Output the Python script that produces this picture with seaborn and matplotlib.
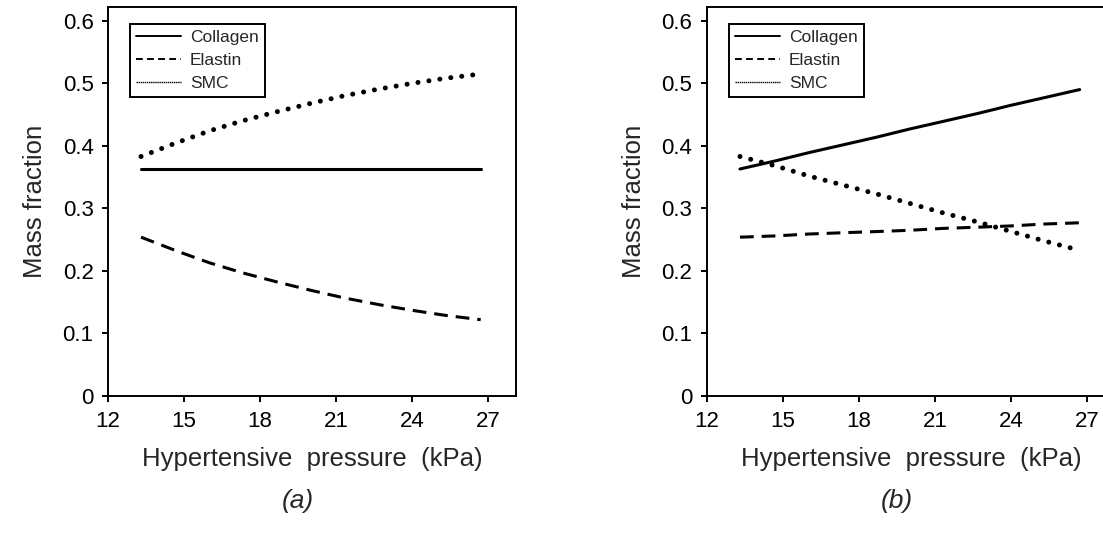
import numpy as np
import pandas as pd
import matplotlib
matplotlib.use("Agg")
import matplotlib.pyplot as plt
import seaborn as sns
from matplotlib.lines import Line2D

sns.set_style("ticks")
plt.rcParams['font.family'] = ['Liberation Sans', 'DejaVu Sans']

# hypertensive pressure (kPa)
pressure = [13.3, 14.7, 16.0, 17.3, 18.7, 20.0, 21.3, 22.7, 24.0, 25.3, 26.7]

# panel (a)
collagen_a = [0.363] * 11
elastin_a = [0.254, 0.232, 0.213, 0.197, 0.182, 0.169, 0.157, 0.146, 0.137, 0.129, 0.122]
smc_a = [0.383, 0.405, 0.424, 0.440, 0.455, 0.468, 0.480, 0.491, 0.500, 0.508, 0.515]

# panel (b)
collagen_b = [0.363, 0.376, 0.389, 0.401, 0.414, 0.427, 0.439, 0.452, 0.465, 0.477, 0.490]
elastin_b = [0.254, 0.256, 0.259, 0.261, 0.263, 0.265, 0.268, 0.270, 0.272, 0.275, 0.277]
smc_b = [0.383, 0.368, 0.352, 0.338, 0.323, 0.308, 0.293, 0.278, 0.263, 0.248, 0.233]

xticks = [12, 15, 18, 21, 24, 27]
yticks = [0, 0.1, 0.2, 0.3, 0.4, 0.5, 0.6]
ytick_labels = ["0", "0.1", "0.2", "0.3", "0.4", "0.5", "0.6"]

fig = plt.figure(figsize=(11.03, 5.41), dpi=100)
ax_a = fig.add_axes([0.098, 0.268, 0.370, 0.719])
ax_b = fig.add_axes([0.641, 0.268, 0.370, 0.719])

dash = (0, (4.5, 2.6))
dot = (0, (0.01, 2.2))

def draw(ax, col, ela, smc, tag):
    df = pd.DataFrame({"p": pressure, "Collagen": col, "Elastin": ela, "SMC": smc})
    sns.lineplot(data=df, x="p", y="Collagen", ax=ax, color="black", lw=2.2,
                 linestyle="-", legend=False)
    sns.lineplot(data=df, x="p", y="Elastin", ax=ax, color="black", lw=2.2,
                 linestyle=dash, legend=False)
    sns.lineplot(data=df, x="p", y="SMC", ax=ax, color="black", lw=3.6,
                 linestyle=dot, dash_capstyle="round", legend=False)
    ax.set_xlim(12, 28.1)
    ax.set_ylim(0, 0.622)
    ax.set_xticks(xticks)
    ax.set_yticks(yticks)
    ax.set_yticklabels(ytick_labels)
    ax.tick_params(direction="out", length=4.5, width=1.4, labelsize=16, color="black",
                   labelcolor="black", pad=6)
    for s in ax.spines.values():
        s.set_visible(True)
        s.set_linewidth(1.4)
        s.set_color("black")
    ax.set_xlabel("Hypertensive  pressure  (kPa)", fontsize=18.5, labelpad=11)
    ax.set_ylabel("Mass fraction", fontsize=18.5, labelpad=11)
    handles = [
        Line2D([], [], color="black", lw=1.4, linestyle="-"),
        Line2D([], [], color="black", lw=1.4, linestyle=(0, (3.5, 2.2))),
        Line2D([], [], color="black", lw=1.0, linestyle=(0, (1, 0.5))),
    ]
    leg = ax.legend(handles, ["Collagen", "Elastin", "SMC"], loc="upper left",
                    bbox_to_anchor=(0.045, 0.965), fontsize=12.5, frameon=True,
                    fancybox=False, edgecolor="black", framealpha=1,
                    handlelength=2.6, handletextpad=0.5, borderpad=0.35,
                    labelspacing=0.45, borderaxespad=0.2)
    leg.get_frame().set_linewidth(1.4)
    bb = ax.get_position()
    fig.text((bb.x0 + bb.x1) / 2 - 0.013, 0.074, tag, ha="center", va="center",
             fontsize=19, fontstyle="italic")

draw(ax_a, collagen_a, elastin_a, smc_a, "(a)")
draw(ax_b, collagen_b, elastin_b, smc_b, "(b)")

fig.savefig("out.png", dpi=100)
